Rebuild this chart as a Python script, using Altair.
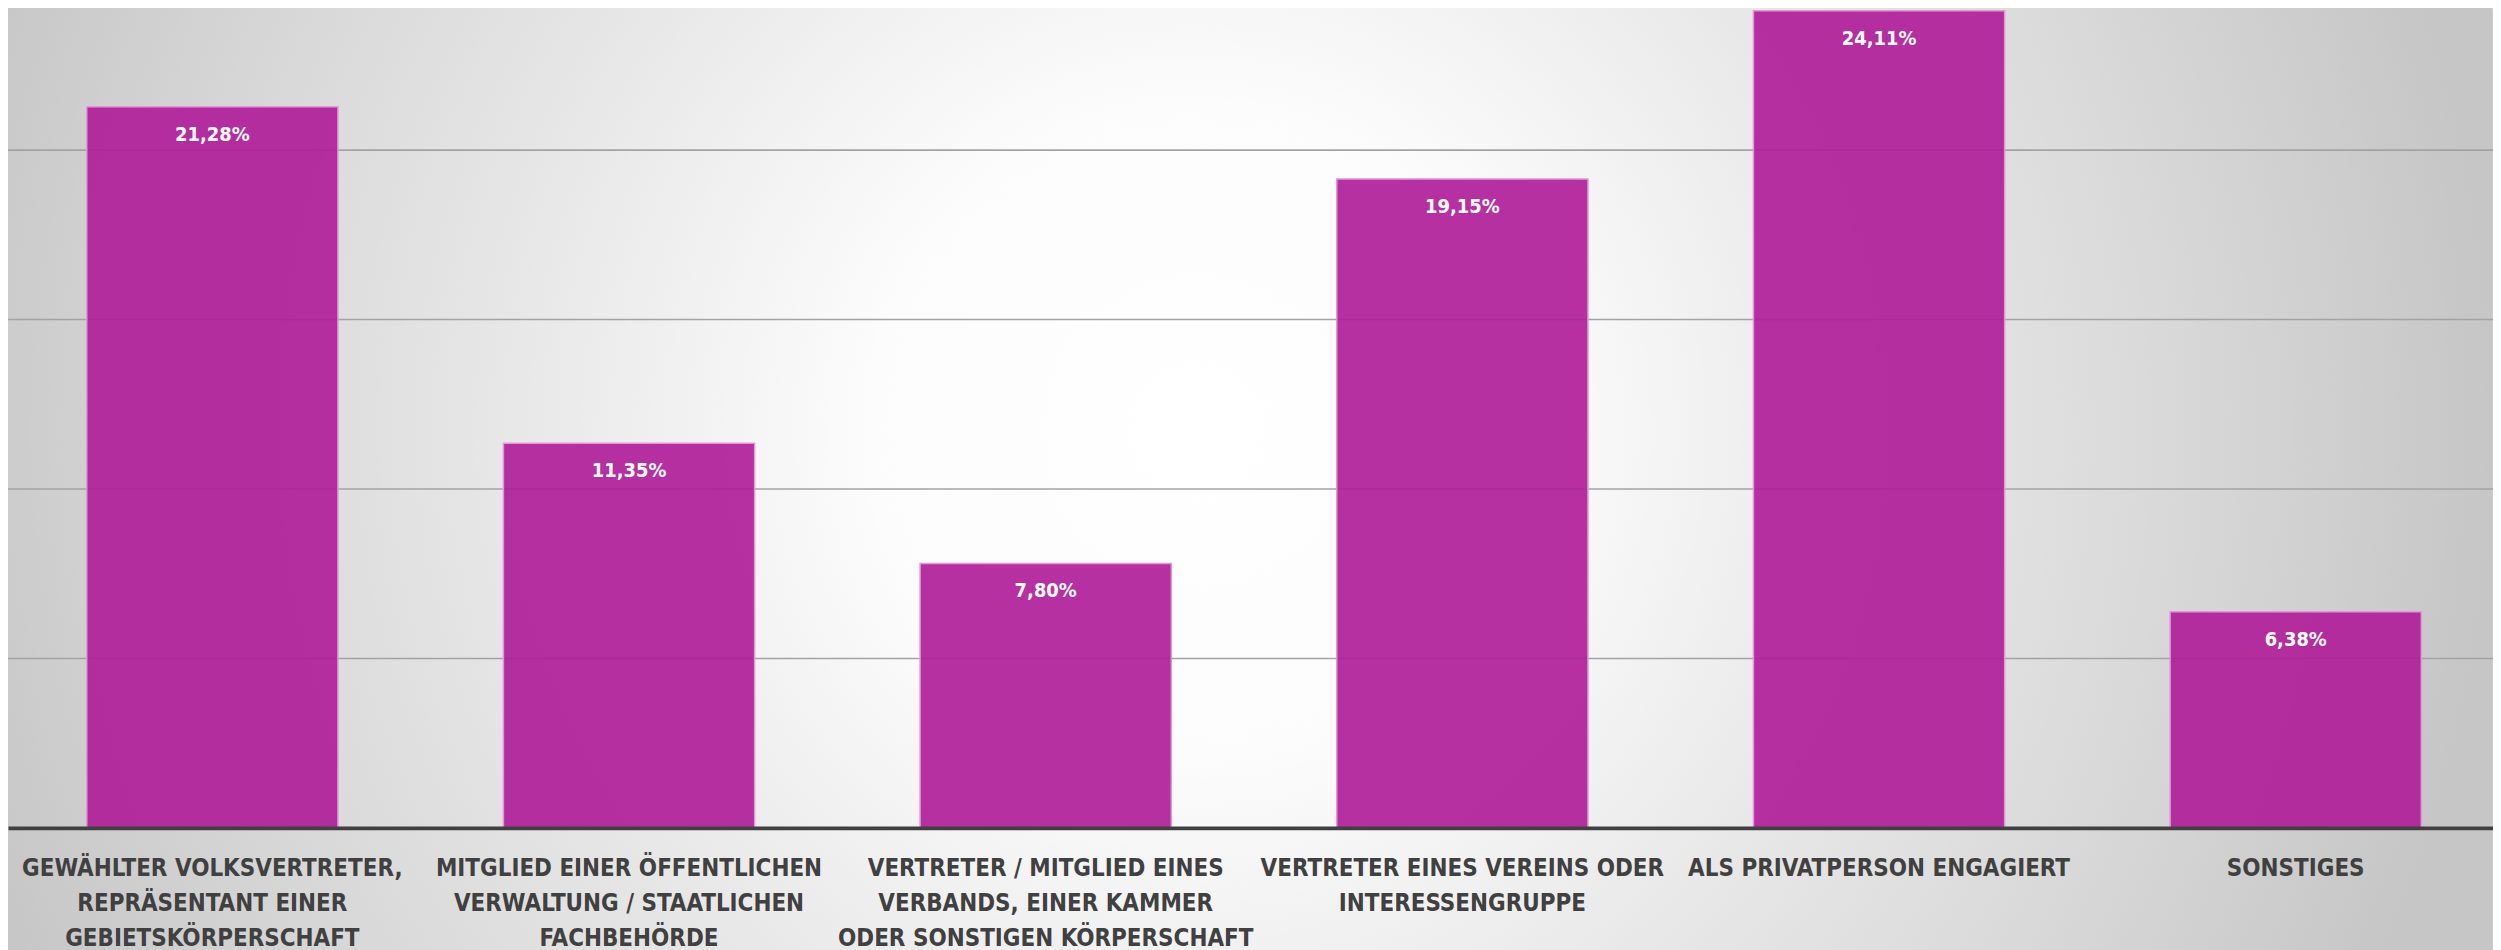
import altair as alt
import pandas as pd

# ---- data ----
categories = [
    "GEWÄHLTER VOLKSVERTRETER,\nREPRÄSENTANT EINER\nGEBIETSKÖRPERSCHAFT",
    "MITGLIED EINER ÖFFENTLICHEN\nVERWALTUNG / STAATLICHEN\nFACHBEHÖRDE",
    "VERTRETER / MITGLIED EINES\nVERBANDS, EINER KAMMER\nODER SONSTIGEN KÖRPERSCHAFT",
    "VERTRETER EINES VEREINS ODER\nINTERESSENGRUPPE",
    "ALS PRIVATPERSON ENGAGIERT",
    "SONSTIGES",
]
values = [21.28, 11.35, 7.80, 19.15, 24.11, 6.38]
grid_values = [5, 10, 15, 20]

df = pd.DataFrame({"cat": categories, "value": values})
gdf = pd.DataFrame({"g": grid_values})

FONT = "DejaVu Sans Condensed, Liberation Sans Narrow, sans-serif"
W, H = 2493, 821

yscale = alt.Scale(domain=[0, 24.15], nice=False, zero=True)
xscale = alt.Scale(paddingInner=0.3971, paddingOuter=0.1805, align=0.5235)

gradient = alt.RadialGradient(
    gradient="radial",
    x1=0.5, y1=0.5, r1=0, x2=0.5, y2=0.5, r2=0.5,
    stops=[
        alt.GradientStop(color="#ffffff", offset=0),
        alt.GradientStop(color="#fcfcfc", offset=0.25),
        alt.GradientStop(color="#e6e6e6", offset=0.55),
        alt.GradientStop(color="#dadada", offset=0.73),
        alt.GradientStop(color="#cccccc", offset=0.92),
        alt.GradientStop(color="#c6c6c6", offset=1),
    ],
)

bg = alt.Chart(pd.DataFrame({"a": [0]})).mark_rect(fill=gradient).encode(
    x=alt.value(-108), x2=alt.value(2492), y=alt.value(-878), y2=alt.value(1722)
)

grid = alt.Chart(gdf).mark_rule(color="#a3a3a3", strokeWidth=1.6).encode(
    y=alt.Y("g:Q", scale=yscale, axis=None)
)

xaxis = alt.Axis(
    title=None,
    labelAngle=0,
    labelExpr="split(datum.label, '\\n')",
    labelFont=FONT,
    labelFontSize=24,
    labelFontWeight="bold",
    labelColor="#404040",
    labelLineHeight=35,
    labelBaseline="top",
    labelPadding=29,
    labelLimit=0,
    labelOverlap=False,
    domainColor="#404040",
    domainWidth=4,
    ticks=False,
    grid=False,
    zindex=1,
)

bars = alt.Chart(df).mark_bar(
    fill="#b01e9a", fillOpacity=0.92, stroke="#dc9bd3", strokeWidth=1.5
).encode(
    x=alt.X("cat:N", sort=None, scale=xscale, axis=xaxis),
    y=alt.Y("value:Q", scale=yscale, axis=None),
)

labels = alt.Chart(df).transform_calculate(
    lab="replace(format(datum.value, '.2f'), '.', ',') + '%'"
).mark_text(
    color="white", font=FONT, fontSize=20, fontWeight="bold",
    baseline="middle", align="center", dy=28
).encode(
    x=alt.X("cat:N", sort=None, scale=xscale),
    y=alt.Y("value:Q", scale=yscale),
    text="lab:N",
)

chart = alt.layer(bg, grid, bars, labels).properties(
    width=W, height=H,
    autosize=alt.AutoSizeParams(type="none"),
    padding={"left": 0, "top": 0, "right": 0, "bottom": 121},
).configure_view(stroke=None).configure(background="#cccccc")

chart.save("out.html", embed_options={"renderer": "svg", "actions": False})
